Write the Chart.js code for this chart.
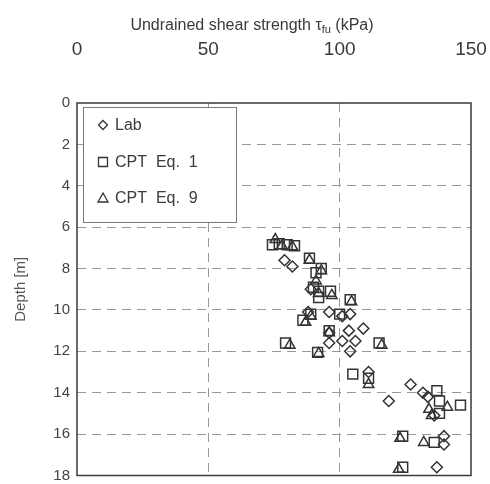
<!DOCTYPE html>
<html>
<head>
<meta charset="utf-8">
<script src="https://cdn.jsdelivr.net/npm/chart.js@4/dist/chart.umd.min.js"></script>
<style>
  html, body { margin: 0; padding: 0; background: #fff; }
  #wrap { position: relative; width: 490px; height: 484px; }
  #title {
    position: absolute; top: 16px; left: 7px; width: 490px; text-align: center;
    font-family: "Liberation Sans", Arial, sans-serif; font-size: 16px; color: #3a3a3a;
  }
  #title sub { font-size: 11px; vertical-align: -3px; }
</style>
</head>
<body>
<div id="wrap">
  <canvas id="chart" width="490" height="484"></canvas>
  <div id="title">Undrained shear strength τ<sub>fu</sub> (kPa)</div>
</div>
<script>
// [shear strength kPa, depth m]
const labPoints = [
  [79, 7.6], [82, 7.9], [89, 9.0], [88, 10.1], [96, 10.1], [101, 10.3], [104, 10.2],
  [96, 11.1], [103.5, 11.0], [109, 10.9], [96, 11.6], [101, 11.5], [106, 11.5],
  [104, 12.0], [111, 13.0], [127, 13.6], [118.7, 14.4], [131.7, 14.0], [133.6, 14.2],
  [136, 15.1], [139.7, 16.1], [139.7, 16.5], [137, 17.6]
];
const cpt1Points = [
  [74.4, 6.85], [77, 6.8], [80, 6.85], [82.8, 6.9], [88.5, 7.5], [91, 8.2], [93, 8.0],
  [90, 8.9], [92, 9.1], [96.5, 9.1], [92, 9.4], [104, 9.5], [89, 10.2], [86, 10.5],
  [100, 10.2], [96, 11.0], [79.4, 11.6], [91.6, 12.05], [115, 11.6], [105, 13.1],
  [111, 13.3], [137, 13.9], [138, 14.4], [146, 14.6], [138, 15.0], [124, 16.1],
  [136, 16.4], [124, 17.6]
];
const cpt9Points = [
  [75.5, 6.6], [78, 6.9], [82, 6.95], [88.5, 7.6], [93, 8.1], [91, 8.6], [92, 9.2],
  [97, 9.3], [104.5, 9.6], [89, 10.3], [87, 10.6], [96, 11.1], [81, 11.7], [92, 12.1],
  [116, 11.7], [111, 13.6], [141, 14.7], [134, 14.8], [135, 15.1], [123, 16.2],
  [132, 16.4], [122.5, 17.7]
];
const seriesNames = ["Lab", "CPT  Eq.  1", "CPT  Eq.  9"];
const xTicks = [0, 50, 100, 150];
const yTicks = [0, 2, 4, 6, 8, 10, 12, 14, 16, 18];

const ink = "#333";
const toXY = arr => arr.map(p => ({ x: p[0], y: p[1] }));

function series(name, pts, style, r) {
  return {
    label: name, data: toXY(pts), pointStyle: style, pointRadius: r,
    borderColor: ink, backgroundColor: "transparent", pointBorderWidth: 1.5,
    showLine: false
  };
}

// frame round the plot
const framePlugin = {
  id: "frame",
  beforeDatasetsDraw(chart) {
    const a = chart.chartArea, ctx = chart.ctx;
    ctx.save();
    ctx.strokeStyle = "#3a3a3a";
    ctx.lineWidth = 1.5;
    ctx.strokeRect(a.left, a.top, a.right - a.left, a.bottom - a.top);
    ctx.restore();
  }
};

// legend box inside the plot, top-left
function symbol(ctx, kind, x, y) {
  ctx.beginPath();
  if (kind === "rectRot") {
    ctx.moveTo(x, y - 4.5); ctx.lineTo(x + 4.5, y); ctx.lineTo(x, y + 4.5); ctx.lineTo(x - 4.5, y);
    ctx.closePath();
  } else if (kind === "rect") {
    ctx.rect(x - 4.5, y - 4.5, 9, 9);
  } else {
    ctx.moveTo(x, y - 5); ctx.lineTo(x + 5, y + 4); ctx.lineTo(x - 5, y + 4);
    ctx.closePath();
  }
  ctx.stroke();
}
const legendPlugin = {
  id: "boxLegend",
  afterDraw(chart) {
    const a = chart.chartArea, ctx = chart.ctx;
    const bx = a.left + 6, by = a.top + 4, bw = 153, bh = 115;
    ctx.save();
    ctx.fillStyle = "#fff";
    ctx.fillRect(bx, by, bw, bh);
    ctx.strokeStyle = "#777";
    ctx.lineWidth = 1;
    ctx.strokeRect(bx + 0.5, by + 0.5, bw, bh);
    const rows = [18, 55, 91];
    ctx.font = "16px 'Liberation Sans', Arial, sans-serif";
    ctx.textBaseline = "middle";
    chart.data.datasets.forEach((ds, i) => {
      ctx.strokeStyle = ink;
      ctx.lineWidth = 1.3;
      symbol(ctx, ds.pointStyle, bx + 20, by + rows[i]);
      ctx.fillStyle = "#3a3a3a";
      ctx.fillText(ds.label, bx + 32, by + rows[i] + 1);
    });
    ctx.restore();
  }
};

const gridColor = (edgeVals) => (c) =>
  edgeVals.includes(c.tick.value) ? "rgba(0,0,0,0)" : "#999";

new Chart(document.getElementById("chart"), {
  type: "scatter",
  data: {
    datasets: [
      series(seriesNames[0], labPoints, "rectRot", 5.5),
      series(seriesNames[1], cpt1Points, "rect", 7),
      series(seriesNames[2], cpt9Points, "triangle", 6)
    ]
  },
  options: {
    responsive: false,
    animation: false,
    layout: { padding: { top: 0, left: 0, right: 19, bottom: 7 } },
    plugins: { legend: { display: false }, tooltip: { enabled: false } },
    scales: {
      x: {
        type: "linear", position: "top", min: 0, max: 150,
        afterBuildTicks: s => { s.ticks = xTicks.map(v => ({ value: v })); },
        afterFit: s => { s.height = 103; s.paddingLeft = 0; s.paddingRight = 0; },
        grid: { color: gridColor([0, 150]), drawTicks: false, lineWidth: 1 },
        border: { display: false, dash: [9, 6] },
        ticks: { padding: 42, color: "#3a3a3a", font: { family: "'Liberation Sans', Arial, sans-serif", size: 19 } }
      },
      y: {
        type: "linear", reverse: true, min: 0, max: 18,
        afterBuildTicks: s => { s.ticks = yTicks.map(v => ({ value: v })); },
        afterFit: s => { s.width = 77; s.paddingTop = 0; s.paddingBottom = 0; },
        grid: { color: gridColor([0, 18]), drawTicks: false, lineWidth: 1 },
        border: { display: false, dash: [9, 6] },
        ticks: { padding: 7, color: "#444", font: { family: "'Liberation Sans', Arial, sans-serif", size: 15 } },
        title: {
          display: true, text: "Depth [m]", color: "#555",
          padding: { top: 12, bottom: 0 },
          font: { family: "'Liberation Sans', Arial, sans-serif", size: 15 }
        }
      }
    }
  },
  plugins: [framePlugin, legendPlugin]
});
</script>
</body>
</html>
